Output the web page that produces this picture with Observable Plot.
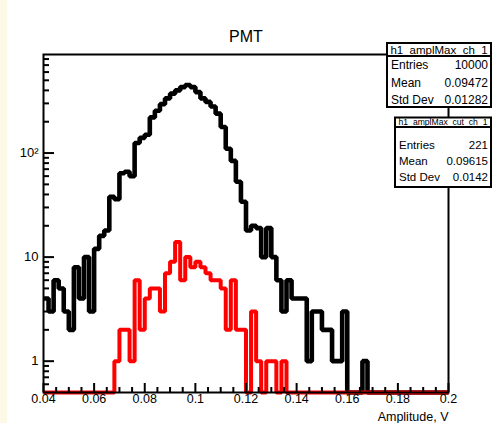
<!DOCTYPE html>
<html><head><meta charset="utf-8">
<script src="https://cdn.jsdelivr.net/npm/d3@7"></script>
<script src="https://cdn.jsdelivr.net/npm/@observablehq/plot@0.6"></script>
<style>
body{margin:0;background:#fff;}
#chart svg{display:block}
</style>
</head><body><div id="chart"></div>
<script>
// ---- data ----
const binStart = 0.04;
const binWidth = 0.002;
const blackCounts = [4,3,6,5,3,2,8,4,10,3, 12,16,18,38,36,64,66,60,125,140,
  150,220,255,295,335,372,400,430,450,430, 385,335,310,280,239,178,110,84,53,34,
  18,20,19,10,19,10,6,3,6,4, 4,4,1,3,3,2,2,1,1,3, 0,0,0,1,0,0,0,0,0,0,
  0,0,0,0,0,0,0,0,0,0];
const redCounts = [0,0,0,0,0,0,0,0,0,0, 0,0,0,0,1,2,2,1,6,2,
  4,5,5,3,7,9,14,6,10,8, 9,8,7,6,6,5,2,6,2,2,
  0,3,1,0,1,1,0,1,0,0, 0,0,0,0,0,0,0,0,0,0,
  0,0,0,0,0,0,0,0,0,0, 0,0,0,0,0,0,0,0,0,0];
const xMajorTicks = [0.04,0.06,0.08,0.1,0.12,0.14,0.16,0.18,0.2];
const xMinorTicks = [0.045,0.05,0.055,0.065,0.07,0.075,0.085,0.09,0.095,0.105,0.11,0.115,
  0.125,0.13,0.135,0.145,0.15,0.155,0.165,0.17,0.175,0.185,0.19,0.195];
const yMajorTicks = [1,10,100];
const yTickLabels = ["1","10","10\u00b2"];
const yMinorTicks = [0.6,0.7,0.8,0.9,2,3,4,5,6,7,8,9,20,30,40,50,60,70,80,90,200,300,400,500,600,700,800];
const yDomain = [0.5, 885];
const titleText = "PMT";
const xLabelText = "Amplitude, V";
const statNames = ["h1_amplMax_ch_1","h1_amplMax_cut_ch_1"];
const statKeys = ["Entries","Mean","Std Dev"];
const statValues1 = ["10000","0.09472","0.01282"];
const statValues2 = ["221","0.09615","0.0142"];

// ---- layout ----
const W = 497, H = 423;
const mL = 43, mR = 49, mT = 54, mB = 31;
const frameW = W - mL - mR, frameH = H - mT - mB;
const font = "'Liberation Sans', Arial, Helvetica, sans-serif";

function outline(counts){
  const pts = counts.map((c,i)=>({x: binStart + i*binWidth, y: c > 0 ? c : yDomain[0]}));
  pts.push({x: binStart + counts.length*binWidth, y: pts[pts.length-1].y});
  return pts;
}
const fmtX = d => String(+d.toFixed(3));

const chart = Plot.plot({
  width: W, height: H,
  marginLeft: mL, marginRight: mR, marginTop: mT, marginBottom: mB,
  style: {fontFamily: font, fontSize: "13px", background: "white", color: "black", overflow: "visible"},
  x: {type: "linear", domain: [xMajorTicks[0], xMajorTicks[xMajorTicks.length-1]]},
  y: {type: "log", domain: yDomain},
  marks: [
    Plot.line(outline(blackCounts), {x: "x", y: "y", curve: "step-after", stroke: "black", strokeWidth: 4.6, strokeLinejoin: "miter", strokeLinecap: "butt"}),
    Plot.line(outline(redCounts), {x: "x", y: "y", curve: "step-after", stroke: "#ff0000", strokeWidth: 4, strokeLinejoin: "miter", strokeLinecap: "butt"}),
    Plot.frame({stroke: "black", strokeWidth: 2}),
    Plot.tickX(xMajorTicks, {x: d => d, insetTop: frameH - 9, stroke: "black", strokeWidth: 2}),
    Plot.tickX(xMinorTicks, {x: d => d, insetTop: frameH - 5, stroke: "black", strokeWidth: 2}),
    Plot.tickY(yMajorTicks, {y: d => d, insetRight: frameW - 11, stroke: "black", strokeWidth: 2}),
    Plot.tickY(yMinorTicks, {y: d => d, insetRight: frameW - 6, stroke: "black", strokeWidth: 2}),
    Plot.axisX({ticks: xMajorTicks, tickSize: 0, tickPadding: 2, tickFormat: fmtX, fontSize: 12.5, label: null}),
    Plot.axisY({ticks: yMajorTicks, tickSize: 0, tickPadding: 5, tickFormat: d => yTickLabels[yMajorTicks.indexOf(d)], fontSize: 13, label: null}),
    Plot.text([titleText], {frameAnchor: "top", dy: -24, fontSize: 16}),
    Plot.text([xLabelText], {frameAnchor: "bottom-right", textAnchor: "end", dy: 24, lineAnchor: "middle", fontSize: 12.5})
  ]
});
document.getElementById("chart").append(chart);

// ---- decorations: canvas strip and stats boxes ----
const svg = d3.select(chart);
svg.insert("rect", ":first-child").attr("x", 0).attr("y", 0).attr("width", 7).attr("height", H).attr("fill", "#fcf9e6");

function statBox(x0, x1, y0, ySep, y1, name, nameSize, values, rowSize, rowYs, padL){
  const g = svg.append("g").attr("font-family", font).attr("fill", "black");
  g.append("rect").attr("x", x0).attr("y", y0).attr("width", x1 - x0).attr("height", y1 - y0)
    .attr("fill", "white").attr("stroke", "black").attr("stroke-width", 2);
  g.append("line").attr("x1", x0).attr("x2", x1).attr("y1", ySep).attr("y2", ySep).attr("stroke", "black").attr("stroke-width", 2);
  g.append("text").attr("x", (x0 + x1)/2).attr("y", (y0 + ySep)/2).attr("dy", "0.35em")
    .attr("text-anchor", "middle").attr("font-size", nameSize).text(name);
  statKeys.forEach((k, i) => {
    g.append("text").attr("x", x0 + padL).attr("y", rowYs[i]).attr("dy", "0.35em")
      .attr("text-anchor", "start").attr("font-size", rowSize).text(k);
    g.append("text").attr("x", x1 - 3).attr("y", rowYs[i]).attr("dy", "0.35em")
      .attr("text-anchor", "end").attr("font-size", rowSize).text(values[i]);
  });
}
statBox(387, 491, 43, 56, 107, statNames[0], 11.5, statValues1, 12, [65, 83, 100], 4);
statBox(395, 491, 117.5, 127, 187, statNames[1], 8.6, statValues2, 11.5, [145, 161, 177], 4);
</script>
</body></html>
